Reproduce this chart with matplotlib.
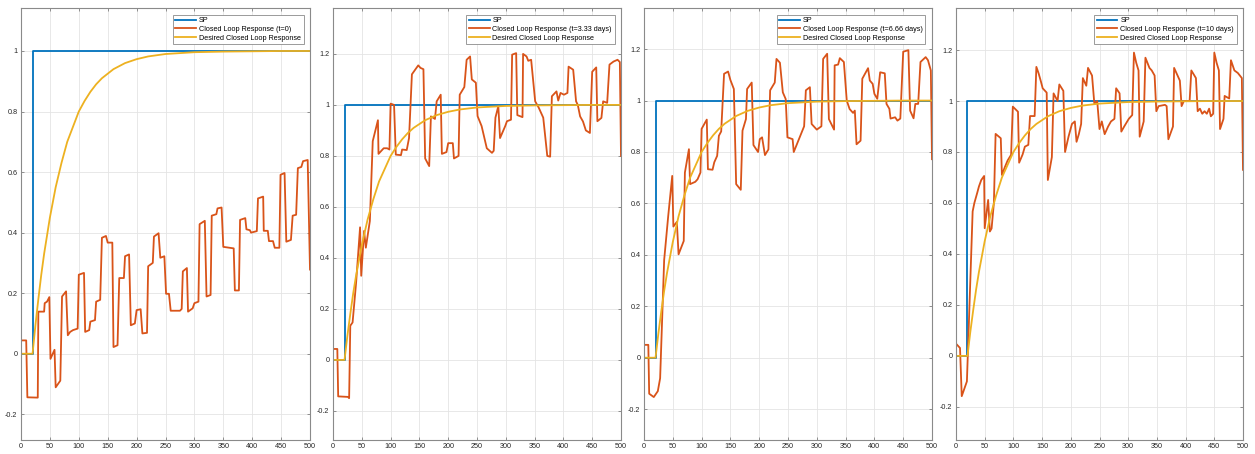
import matplotlib
matplotlib.use("Agg")
import matplotlib.pyplot as plt
from matplotlib.ticker import FuncFormatter, MultipleLocator

plt.rcParams['font.family'] = ['Liberation Sans', 'DejaVu Sans']
plt.rcParams['axes.unicode_minus'] = False

# Set point step (applied at t = 20)
sp_t = [0, 20, 20, 500]
sp_y = [0, 0, 1, 1]

# Desired first-order closed loop response
des_t = [0, 20, 25, 30, 35, 40, 45, 50, 60, 70, 80, 90, 100, 110, 120, 130, 140,
         150, 160, 180, 200, 220, 250, 300, 350, 400, 450, 500]
des_y = [0, 0, 0.095, 0.18, 0.26, 0.33, 0.39, 0.45, 0.55, 0.63, 0.70, 0.75, 0.80,
         0.835, 0.865, 0.89, 0.91, 0.925, 0.94, 0.96, 0.973, 0.982, 0.99, 0.996,
         0.998, 0.999, 1.0, 1.0]

# Closed loop response, t = 0
cl0_t = [0, 9, 11, 29, 30, 40, 41, 45, 49, 51, 58, 60, 68, 71, 78, 81, 85, 90, 98,
         100, 109, 111, 118, 120, 128, 130, 137, 140, 147, 150, 158, 160, 167, 170,
         178, 180, 187, 190, 197, 200, 207, 210, 218, 220, 228, 230, 238, 241, 248,
         251, 256, 259, 275, 278, 280, 287, 289, 297, 300, 307, 309, 318, 321, 328,
         330, 338, 340, 347, 350, 368, 370, 377, 379, 388, 390, 396, 398, 408, 410,
         419, 420, 427, 429, 436, 439, 447, 449, 456, 459, 467, 470, 476, 479, 485,
         488, 496, 500]
cl0_y = [0.044, 0.044, -0.144, -0.145, 0.139, 0.139, 0.167, 0.172, 0.187, -0.017,
         0.013, -0.111, -0.089, 0.189, 0.206, 0.061, 0.072, 0.078, 0.083, 0.261,
         0.267, 0.072, 0.078, 0.106, 0.111, 0.172, 0.178, 0.383, 0.389, 0.367,
         0.367, 0.022, 0.028, 0.25, 0.25, 0.322, 0.328, 0.094, 0.1, 0.144, 0.147,
         0.067, 0.069, 0.289, 0.3, 0.387, 0.398, 0.317, 0.322, 0.198, 0.198, 0.142,
         0.142, 0.148, 0.272, 0.283, 0.139, 0.15, 0.167, 0.172, 0.428, 0.439,
         0.189, 0.194, 0.456, 0.461, 0.48, 0.483, 0.353, 0.348, 0.209, 0.209,
         0.442, 0.448, 0.411, 0.408, 0.40, 0.405, 0.513, 0.519, 0.406, 0.406,
         0.372, 0.372, 0.35, 0.35, 0.591, 0.597, 0.37, 0.376, 0.456, 0.459, 0.613,
         0.617, 0.636, 0.64, 0.278]

# Closed loop response, t = 3.33 days
cl1_t = [0, 7.5, 9, 26, 28, 30, 34, 40, 47, 49, 54, 57, 64, 69, 78, 79, 88, 94, 98,
         100, 106, 109, 118, 120, 128, 132, 137, 148, 152, 157, 160, 167, 170, 177,
         180, 187, 189, 197, 200, 208, 210, 218, 220, 228, 232, 238, 241, 248, 251,
         258, 267, 276, 279, 282, 287, 290, 299, 302, 309, 311, 318, 320, 329, 330,
         336, 339, 344, 351, 357, 365, 372, 377, 380, 388, 391, 395, 401, 407, 409,
         417, 422, 425, 429, 434, 439, 446, 450, 457, 459, 466, 469, 476, 480, 487,
         494, 498, 500]
cl1_y = [0.043, 0.043, -0.143, -0.145, -0.15, 0.134, 0.147, 0.30, 0.52, 0.33, 0.506,
         0.44, 0.545, 0.858, 0.94, 0.808, 0.83, 0.83, 0.825, 1.005, 1.0, 0.805,
         0.803, 0.825, 0.823, 0.87, 1.12, 1.155, 1.145, 1.14, 0.79, 0.76, 0.955,
         0.945, 1.014, 1.04, 0.808, 0.815, 0.85, 0.85, 0.79, 0.80, 1.04, 1.07,
         1.177, 1.19, 1.10, 1.087, 0.956, 0.917, 0.83, 0.812, 0.82, 0.95, 0.995,
         0.87, 0.917, 0.936, 0.942, 1.197, 1.203, 0.96, 0.952, 1.20, 1.19, 1.173,
         1.177, 1.014, 0.99, 0.95, 0.80, 0.797, 1.034, 1.053, 1.017, 1.047, 1.04,
         1.047, 1.15, 1.138, 1.014, 1.0, 0.955, 0.935, 0.90, 0.89, 1.13, 1.147,
         0.936, 0.949, 1.014, 1.008, 1.158, 1.17, 1.177, 1.168, 0.80]

# Closed loop response, t = 6.66 days
cl2_t = [0, 7.5, 9, 17, 24, 28, 35, 42, 49, 51, 57, 60, 69, 71, 78, 80, 89, 93, 98,
         100, 109, 111, 119, 122, 127, 130, 134, 139, 146, 150, 156, 160, 168, 171,
         177, 179, 187, 190, 198, 201, 205, 210, 216, 219, 227, 230, 236, 241, 246,
         249, 258, 260, 278, 281, 288, 291, 300, 308, 311, 318, 321, 330, 331, 337,
         340, 347, 352, 357, 363, 366, 369, 376, 379, 389, 392, 397, 400, 405, 410,
         418, 421, 426, 428, 436, 440, 445, 450, 459, 462, 468, 471, 476, 480, 489,
         493, 498, 500]
cl2_y = [0.05, 0.05, -0.14, -0.153, -0.13, -0.08, 0.38, 0.55, 0.707, 0.51, 0.528,
         0.402, 0.454, 0.72, 0.811, 0.675, 0.684, 0.694, 0.72, 0.89, 0.926, 0.733,
         0.731, 0.76, 0.785, 0.863, 0.88, 1.104, 1.113, 1.08, 1.045, 0.675, 0.653,
         0.883, 0.928, 1.045, 1.07, 0.827, 0.80, 0.85, 0.857, 0.788, 0.81, 1.04,
         1.07, 1.162, 1.147, 1.032, 1.006, 0.857, 0.85, 0.80, 0.90, 1.04, 1.052,
         0.909, 0.887, 0.90, 1.162, 1.182, 0.928, 0.887, 1.137, 1.14, 1.165, 1.15,
         1.0, 0.967, 0.952, 0.961, 0.83, 0.844, 1.085, 1.126, 1.078, 1.065, 1.026,
         1.007, 1.11, 1.106, 0.987, 0.968, 0.93, 0.935, 0.922, 0.93, 1.19, 1.196,
         0.961, 0.931, 0.987, 0.987, 1.15, 1.169, 1.157, 1.117, 0.772]

# Closed loop response, t = 10 days
cl3_t = [0, 7, 10, 19, 29, 32, 37, 40, 44, 49, 50, 56, 59, 62, 66, 69, 78, 80, 85, 90,
         96, 99, 108, 110, 116, 120, 126, 129, 137, 140, 144, 148, 151, 158, 160, 167,
         170, 177, 180, 187, 190, 196, 202, 207, 210, 214, 218, 221, 227, 230, 237,
         241, 246, 250, 254, 259, 265, 270, 276, 279, 285, 288, 293, 301, 307, 310,
         314, 318, 320, 327, 330, 337, 341, 346, 349, 353, 364, 367, 370, 378, 380,
         386, 390, 393, 397, 407, 410, 418, 421, 425, 429, 433, 437, 441, 444, 448,
         450, 454, 458, 460, 466, 468, 476, 479, 485, 491, 498, 500]
cl3_y = [0.048, 0.031, -0.158, -0.10, 0.567, 0.60, 0.64, 0.665, 0.69, 0.706, 0.501,
         0.612, 0.488, 0.50, 0.60, 0.871, 0.854, 0.71, 0.74, 0.767, 0.789, 0.978,
         0.958, 0.758, 0.79, 0.821, 0.828, 0.941, 0.941, 1.134, 1.108, 1.076, 1.05,
         1.033, 0.69, 0.78, 1.03, 1.0, 1.065, 1.04, 0.80, 0.86, 0.91, 0.92, 0.84,
         0.87, 0.91, 1.09, 1.06, 1.13, 1.10, 0.99, 1.0, 0.89, 0.92, 0.87, 0.90, 0.92,
         0.93, 1.05, 1.03, 0.88, 0.90, 0.93, 0.945, 1.19, 1.15, 1.12, 0.86, 0.92,
         1.17, 1.13, 1.12, 1.10, 0.96, 0.98, 0.985, 0.98, 0.85, 0.90, 1.13, 1.10,
         1.08, 0.98, 1.0, 1.0, 1.12, 1.09, 0.96, 0.97, 0.95, 0.96, 0.95, 0.97, 0.94,
         0.95, 1.19, 1.15, 1.12, 0.89, 0.93, 1.02, 1.01, 1.16, 1.12, 1.11, 1.09, 0.73]

cl_labels = ['Closed Loop Response (t=0)',
             'Closed Loop Response (t=3.33 days)',
             'Closed Loop Response (t=6.66 days)',
             'Closed Loop Response (t=10 days)']
cl_series = [(cl0_t, cl0_y), (cl1_t, cl1_y), (cl2_t, cl2_y), (cl3_t, cl3_y)]
x_ticks = list(range(0, 501, 50))

BLUE = '#0072BD'
ORANGE = '#D95319'
YELLOW = '#EDB120'

W, H = 1255, 454
fig = plt.figure(figsize=(W / 100, H / 100), dpi=100)

# pixel boxes: (left, right, top, bottom) and y-limits for each panel
boxes = [(21, 310, 8, 440), (333, 621, 8, 440), (644, 932, 8, 440), (956, 1243, 8, 440)]
ylims = [(-0.285, 1.142), (-0.314, 1.38), (-0.32, 1.36), (-0.33, 1.365)]

fmt = FuncFormatter(lambda v, p: '{:g}'.format(round(v, 6)))

for (l, r, t, b), ylim, (ct, cy), lab in zip(boxes, ylims, cl_series, cl_labels):
    ax = fig.add_axes([l / W, 1 - b / H, (r - l) / W, (b - t) / H])
    ax.plot(sp_t, sp_y, color=BLUE, lw=1.3, label='SP')
    ax.plot(ct, cy, color=ORANGE, lw=1.3, label=lab)
    ax.plot(des_t, des_y, color=YELLOW, lw=1.3, label='Desired Closed Loop Response')
    ax.set_xlim(0, 500)
    ax.set_ylim(*ylim)
    ax.set_xticks(x_ticks)
    ax.yaxis.set_major_locator(MultipleLocator(0.2))
    ax.yaxis.set_major_formatter(fmt)
    ax.grid(True, color='#e4e4e4', lw=0.6)
    ax.set_axisbelow(True)
    ax.tick_params(direction='in', length=2.5, width=0.6, top=True, right=True,
                   labelsize=5.2, colors='#7f7f7f', labelcolor='#262626', pad=2.5)
    for s in ax.spines.values():
        s.set_color('#8a8a8a')
        s.set_linewidth(0.8)
    leg = ax.legend(loc='upper right', fontsize=5.2, fancybox=False, framealpha=1,
                    edgecolor='#8a8a8a', borderaxespad=0.9, handlelength=2.9,
                    handletextpad=0.4, labelspacing=0.25, borderpad=0.35)
    leg.get_frame().set_linewidth(0.6)

fig.savefig('out.png', dpi=100)
